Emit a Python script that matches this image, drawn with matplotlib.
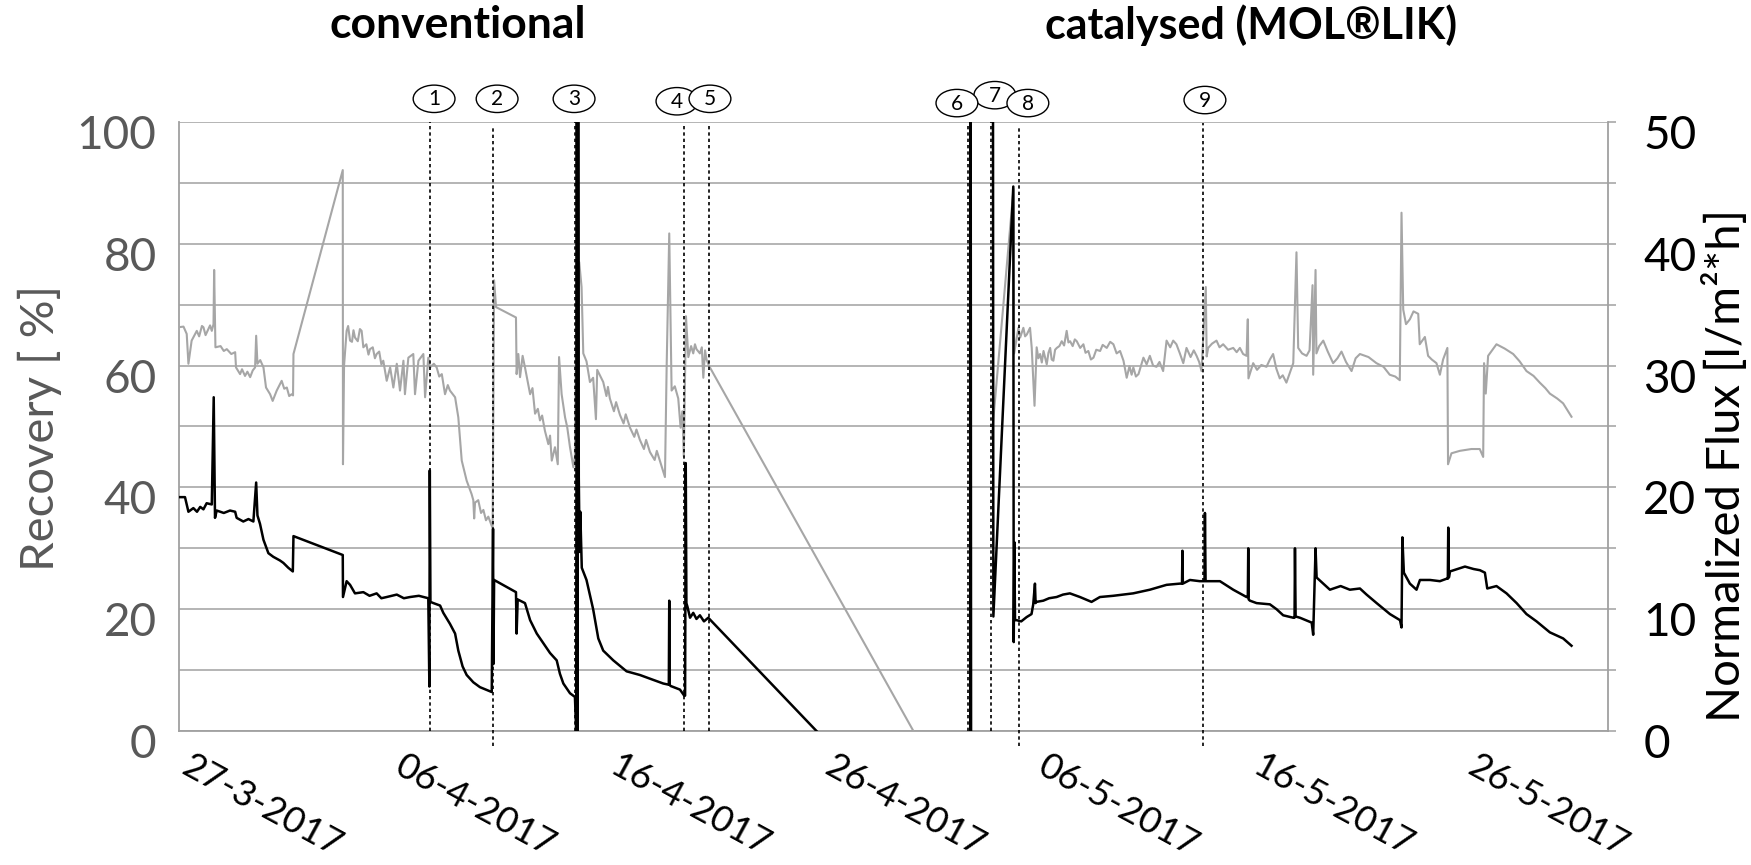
import datetime
import numpy as np
import matplotlib
matplotlib.use("Agg")
import matplotlib.pyplot as plt
import matplotlib.dates as mdates
import matplotlib.transforms as mtransforms
from matplotlib.patches import Ellipse
from matplotlib.ticker import MultipleLocator

plt.rcParams['font.family'] = ['Lato', 'DejaVu Sans']

start = datetime.datetime(2017, 3, 27)

# Recovery [%] (grey) as (days since 27-3-2017, value)
rec_conv = [(0.00, 66.3), (0.22, 66.4), (0.37, 65.2), (0.45, 60.3), (0.60, 64.1), (0.84, 65.7), (0.95, 64.8),
            (1.08, 66.5), (1.15, 66.3), (1.25, 65.0), (1.38, 66.0), (1.46, 66.6), (1.54, 65.7), (1.62, 66.8),
            (1.65, 75.7), (1.71, 63.0), (1.95, 63.2), (2.10, 62.4), (2.24, 62.7), (2.45, 61.9), (2.63, 62.2),
            (2.67, 59.7), (2.86, 58.6), (2.95, 59.4), (3.09, 58.3), (3.20, 59.0), (3.33, 58.1), (3.45, 59.2),
            (3.56, 59.7), (3.61, 64.9), (3.67, 60.3), (3.80, 60.9), (3.95, 59.7), (4.07, 56.4), (4.26, 55.3),
            (4.38, 54.2), (4.57, 55.9), (4.80, 57.5), (4.92, 56.2), (5.04, 56.4), (5.15, 55.0), (5.27, 55.3),
            (5.33, 55.1), (5.35, 61.9), (7.65, 92.1), (7.66, 43.8), (7.71, 60.0), (7.83, 65.7), (7.90, 66.5),
            (7.99, 64.1), (8.08, 63.9), (8.15, 65.8), (8.22, 64.6), (8.35, 64.0), (8.45, 66.0), (8.53, 65.7),
            (8.61, 63.0), (8.75, 63.5), (8.85, 61.8), (8.92, 62.7), (9.05, 63.0), (9.15, 61.2), (9.23, 61.9),
            (9.35, 62.3), (9.45, 60.2), (9.54, 60.8), (9.70, 57.5), (9.86, 59.7), (10.01, 56.4), (10.17, 60.3),
            (10.32, 55.9), (10.48, 60.8), (10.55, 55.3), (10.71, 61.3), (10.94, 61.9), (11.02, 55.3),
            (11.18, 60.8), (11.41, 61.9), (11.49, 54.8), (11.64, 61.3), (11.72, 59.7), (11.90, 60.3),
            (12.03, 59.7), (12.15, 58.2), (12.27, 58.6), (12.42, 55.3), (12.55, 56.8), (12.65, 55.9),
            (12.89, 54.8), (13.04, 51.5), (13.20, 44.4), (13.43, 41.1), (13.66, 38.9), (13.74, 37.9),
            (13.78, 34.9), (13.82, 37.5), (13.97, 37.9), (14.10, 35.8), (14.21, 36.3), (14.33, 34.6),
            (14.44, 35.2), (14.64, 33.3), (14.71, 74.0), (14.80, 69.6), (15.73, 67.9), (15.76, 58.6),
            (15.84, 61.9), (15.92, 58.1), (16.04, 61.6), (16.15, 59.7), (16.39, 55.3), (16.50, 56.3),
            (16.62, 52.1), (16.75, 52.9), (16.85, 51.0), (16.95, 51.8), (17.08, 49.3), (17.24, 47.1),
            (17.32, 48.5), (17.40, 44.4), (17.55, 46.6), (17.68, 43.8), (17.74, 61.4), (17.86, 55.3),
            (18.02, 51.5), (18.12, 49.9), (18.25, 46.6), (18.41, 43.3), (18.48, 45.1), (18.56, 76.7),
            (18.62, 58.0), (18.68, 77.0), (18.79, 72.9), (18.87, 62.0), (19.02, 60.7), (19.18, 57.3),
            (19.33, 58.0), (19.46, 51.2), (19.52, 59.3), (19.80, 57.3), (19.95, 55.0), (20.02, 56.5),
            (20.11, 54.6), (20.30, 52.5), (20.40, 54.0), (20.58, 51.9), (20.75, 50.5), (20.85, 52.0),
            (21.05, 49.8), (21.25, 48.3), (21.35, 49.5), (21.51, 47.8), (21.70, 46.3), (21.80, 47.8),
            (21.98, 45.8), (22.20, 44.5), (22.30, 46.0), (22.44, 44.4), (22.68, 41.7), (22.76, 60.0),
            (22.88, 81.7), (22.99, 55.9), (23.14, 56.6), (23.30, 54.6), (23.41, 49.8), (23.49, 52.5),
            (23.56, 45.1), (23.66, 68.1), (23.77, 61.4), (23.90, 63.2), (24.00, 62.0), (24.08, 63.5),
            (24.15, 62.7), (24.31, 62.0), (24.40, 63.0), (24.47, 58.0), (24.55, 62.5), (24.62, 61.0),
            (24.73, 60.0), (34.27, 0.0)]
rec_cat = [(37.92, 48.0), (38.94, 89.0), (38.97, 62.0), (39.17, 66.2), (39.25, 64.6), (39.40, 66.2), (39.48, 64.8),
           (39.56, 65.1), (39.71, 66.2), (39.79, 62.9), (39.92, 53.4), (40.02, 63.0), (40.10, 61.2), (40.18, 61.9),
           (40.26, 60.5), (40.34, 62.4), (40.49, 60.2), (40.57, 62.1), (40.65, 62.9), (40.72, 61.0), (40.80, 60.8),
           (40.88, 62.6), (40.96, 62.9), (41.08, 63.2), (41.19, 64.0), (41.30, 63.3), (41.42, 65.7), (41.50, 63.8),
           (41.58, 64.0), (41.70, 63.2), (41.80, 64.3), (41.89, 64.0), (42.05, 62.9), (42.20, 63.5), (42.30, 62.1),
           (42.43, 62.4), (42.55, 61.0), (42.67, 61.3), (42.80, 62.6), (42.98, 62.4), (43.10, 63.4), (43.29, 62.9),
           (43.45, 63.9), (43.60, 63.5), (43.75, 62.0), (43.91, 62.4), (44.07, 60.8), (44.22, 58.0), (44.35, 59.9),
           (44.45, 58.5), (44.53, 59.7), (44.65, 58.2), (44.77, 58.6), (44.90, 60.1), (45.00, 61.3), (45.15, 60.2),
           (45.30, 61.6), (45.45, 60.0), (45.61, 59.8), (45.75, 60.6), (45.92, 59.1), (46.08, 64.1), (46.25, 63.0),
           (46.39, 64.1), (46.54, 63.5), (46.70, 62.0), (46.86, 60.4), (47.01, 62.9), (47.20, 61.4), (47.35, 62.5),
           (47.48, 61.6), (47.60, 60.6), (47.71, 59.1), (47.91, 72.9), (47.95, 61.5), (48.02, 62.9), (48.20, 63.6),
           (48.41, 64.1), (48.55, 63.0), (48.72, 63.5), (48.95, 62.6), (49.19, 62.9), (49.35, 62.2), (49.50, 62.9),
           (49.65, 61.9), (49.81, 61.6), (49.87, 67.6), (49.90, 57.9), (50.12, 60.4), (50.30, 59.3), (50.50, 60.1),
           (50.74, 59.8), (50.90, 61.0), (51.05, 61.9), (51.20, 59.5), (51.36, 57.9), (51.50, 58.4), (51.67, 57.2),
           (51.85, 59.0), (51.99, 60.4), (52.14, 78.6), (52.22, 62.9), (52.40, 62.0), (52.61, 61.6), (52.75, 62.5),
           (52.89, 73.2), (52.92, 58.5), (53.03, 75.7), (53.07, 62.0), (53.20, 63.2), (53.39, 64.1), (53.60, 62.3),
           (53.85, 60.4), (54.05, 61.2), (54.24, 62.3), (54.45, 60.6), (54.71, 59.1), (54.90, 61.2), (55.10, 61.9),
           (55.50, 61.4), (55.87, 60.4), (56.20, 59.8), (56.49, 58.5), (56.75, 58.2), (56.96, 57.6), (57.04, 85.1),
           (57.12, 69.2), (57.25, 66.8), (57.43, 67.6), (57.60, 68.9), (57.82, 68.5), (57.89, 63.5), (58.13, 64.7),
           (58.28, 61.6), (58.45, 61.0), (58.67, 60.4), (58.83, 58.5), (58.98, 61.0), (59.18, 62.9), (59.21, 43.8),
           (59.37, 45.6), (59.76, 46.0), (60.30, 46.3), (60.69, 46.3), (60.85, 45.0), (60.89, 60.4), (60.97, 55.4),
           (61.08, 61.6), (61.47, 63.5), (61.85, 62.8), (62.25, 61.9), (62.55, 60.7), (62.87, 59.1), (63.20, 58.3),
           (63.49, 57.2), (63.75, 56.3), (63.96, 55.4), (64.30, 54.6), (64.58, 53.8), (64.97, 51.6)]

# Normalized flux [l/m2*h] (black) as (days since 27-3-2017, value)
flux_conv = [(0.00, 19.2), (0.29, 19.2), (0.45, 18.0), (0.68, 18.3), (0.85, 18.0), (1.00, 18.4), (1.15, 18.2),
             (1.30, 18.7), (1.54, 18.6), (1.63, 27.4), (1.69, 17.5), (1.77, 18.1), (2.10, 17.9), (2.39, 18.1),
             (2.63, 18.0), (2.70, 17.5), (3.01, 17.2), (3.25, 17.4), (3.48, 17.2), (3.61, 20.4), (3.67, 17.7),
             (3.79, 17.0), (3.95, 15.7), (4.18, 14.6), (4.41, 14.3), (4.72, 14.0), (4.88, 13.8), (5.11, 13.4),
             (5.32, 13.1), (5.35, 16.0), (7.65, 14.45), (7.66, 11.0), (7.83, 12.3), (7.99, 12.0), (8.22, 11.3),
             (8.61, 11.4), (8.90, 11.1), (9.23, 11.3), (9.45, 10.9), (9.70, 11.0), (10.17, 11.2), (10.50, 10.9),
             (10.79, 11.0), (11.20, 11.1), (11.64, 10.9), (11.69, 3.65), (11.71, 21.4), (11.74, 10.6),
             (11.88, 10.5), (12.19, 10.3), (12.34, 9.7), (12.65, 8.8), (12.89, 8.0), (13.04, 6.6), (13.24, 5.3),
             (13.43, 4.6), (13.74, 4.0), (14.05, 3.6), (14.60, 3.2), (14.66, 16.6), (14.68, 5.5), (14.71, 12.4),
             (15.73, 11.4), (15.76, 8.0), (15.81, 10.8), (16.15, 10.5), (16.39, 9.1), (16.70, 8.0),
             (17.01, 7.2), (17.32, 6.4), (17.63, 5.8), (17.78, 4.7), (17.94, 3.9), (18.25, 3.1), (18.48, 2.8),
             (18.54, 0.0), (18.57, 60.0), (18.60, 0.0), (18.63, 60.0), (18.66, 20.8), (18.70, 14.7),
             (18.73, 18.0), (18.80, 13.4), (19.02, 12.4), (19.33, 10.0), (19.57, 7.6), (19.80, 6.6),
             (20.27, 5.8), (20.89, 4.9), (21.51, 4.6), (22.13, 4.2), (22.60, 3.9), (22.86, 3.8), (22.88, 10.7),
             (22.90, 3.8), (22.94, 3.7), (23.38, 3.4), (23.58, 2.9), (23.62, 2.9), (23.65, 22.0), (23.68, 10.5),
             (23.73, 10.2), (23.85, 9.3), (24.00, 9.7), (24.15, 9.2), (24.31, 9.5), (24.50, 9.0), (24.70, 9.3),
             (29.75, 0.0)]
flux_spike6 = [(36.93, 0.0), (36.94, 60.0), (36.96, 0.0)]
flux_cat = [(37.98, 60.0), (38.00, 9.4), (38.93, 44.7), (38.95, 7.3), (38.98, 15.5), (39.01, 9.1), (39.08, 9.1),
            (39.30, 9.0), (39.55, 9.35), (39.78, 9.6), (39.86, 10.4), (39.94, 12.1), (39.97, 10.5), (40.01, 10.6),
            (40.33, 10.7), (40.60, 10.9), (40.95, 11.0), (41.25, 11.2), (41.57, 11.3), (42.04, 11.0),
            (42.58, 10.6), (42.97, 11.0), (43.59, 11.1), (44.52, 11.3), (45.30, 11.6), (46.08, 12.0),
            (46.70, 12.1), (46.80, 12.1), (46.82, 14.8), (46.84, 12.1), (47.17, 12.4), (47.63, 12.3),
            (47.85, 12.3), (47.87, 17.9), (47.90, 12.3), (48.57, 12.3), (49.19, 11.6), (49.81, 11.0),
            (49.87, 11.0), (49.89, 15.0), (49.91, 10.8), (49.97, 10.7), (50.28, 10.5), (50.90, 10.4),
            (51.21, 10.0), (51.52, 9.5), (51.99, 9.3), (52.05, 9.3), (52.07, 15.0), (52.10, 9.4), (52.30, 9.3),
            (52.85, 8.9), (52.92, 7.9), (53.03, 15.0), (53.08, 12.6), (53.70, 11.6), (54.20, 11.9),
            (54.63, 11.6), (55.10, 11.7), (55.41, 11.2), (55.88, 10.5), (56.50, 9.6), (56.97, 9.1),
            (57.04, 8.5), (57.08, 15.9), (57.15, 13.0), (57.43, 12.1), (57.74, 11.6), (57.90, 12.4),
            (58.37, 12.4), (58.83, 12.3), (59.14, 12.5), (59.20, 12.5), (59.22, 16.7), (59.25, 12.6),
            (59.30, 13.1), (60.00, 13.5), (60.40, 13.3), (60.70, 13.2), (60.93, 13.0), (61.04, 11.7),
            (61.47, 11.9), (61.94, 11.3), (62.41, 10.5), (62.87, 9.6), (63.34, 9.0), (63.96, 8.1),
            (64.58, 7.6), (64.97, 7.0)]

# events (days since start) and their circled labels
event_t = [11.70, 14.64, 18.49, 23.55, 24.72, 36.80, 37.87, 39.20, 47.80]
event_top = [100, 99.2, 100, 99.3, 99.5, 99.5, 100, 99.3, 99.8]
event_bottom = [0, -2.5, 0, 0, 0, 0, 0, -2.5, -2.5]
label_t = [11.91, 14.85, 18.44, 23.24, 24.78, 36.30, 38.07, 39.61, 47.87]
label_y = [103.8, 103.8, 103.8, 103.4, 103.8, 103.1, 104.4, 103.1, 103.6]
label_txt = ['1', '2', '3', '4', '5', '6', '7', '8', '9']

tick_days = [0, 10, 20, 30, 40, 50, 60]
tick_labels = ['27-3-2017', '06-4-2017', '16-4-2017', '26-4-2017', '06-5-2017', '16-5-2017', '26-5-2017']

t0 = mdates.date2num(start)
grey = '#a6a6a6'
axis_grey = '#a0a0a0'


def xy(points):
    t, v = zip(*points)
    return t0 + np.array(t), np.array(v)


fig = plt.figure(figsize=(17.51, 8.65), dpi=100)
ax = fig.add_axes([0.1021, 0.1549, 0.8162, 0.7041])
ax2 = ax.twinx()

for seg in (rec_conv, rec_cat):
    ax.plot(*xy(seg), color=grey, lw=1.5, zorder=3)
for seg in (flux_conv, flux_spike6, flux_cat):
    ax2.plot(*xy(seg), color='black', lw=1.8, zorder=3)

for x, top, bot in zip(event_t, event_top, event_bottom):
    ax.plot([t0 + x, t0 + x], [bot, top], color='black', lw=1.2, ls=(0, (2.0, 1.8)), clip_on=False, zorder=4)

order = [0, 1, 2, 3, 4, 6, 5, 7, 8]
for i in order:
    e = Ellipse((t0 + label_t[i], label_y[i]), 1.95, 4.5, facecolor='white', edgecolor='black',
                lw=1.0, clip_on=False, zorder=5)
    ax.add_patch(e)
    ax.text(t0 + label_t[i], label_y[i] - 0.1, label_txt[i], ha='center', va='center', fontsize=15,
            clip_on=False, zorder=6)

ax.set_xlim(t0, t0 + 66.67)
ax.set_ylim(0, 100)
ax2.set_ylim(0, 50)

ax.set_xticks(t0 + np.array(tick_days))
ax.set_xticklabels(tick_labels, rotation=-28.5, ha='left', va='top', rotation_mode='anchor')
ax.tick_params(axis='x', length=0, pad=13, labelsize=26.5, labelcolor='black')
shift = mtransforms.ScaledTranslation(0.13, 0, fig.dpi_scale_trans)
for lab in ax.get_xticklabels():
    lab.set_transform(lab.get_transform() + shift)

ax.set_yticks(range(0, 101, 20))
ax.yaxis.set_minor_locator(MultipleLocator(10))
ax.tick_params(axis='y', which='both', length=0, pad=16, labelsize=33, labelcolor='#595959')
ax.grid(axis='y', which='both', color='#b4b4b4', lw=1.4)
ax.set_axisbelow(True)

ax2.set_yticks(range(0, 51, 10))
ax2.yaxis.set_minor_locator(MultipleLocator(5))
ax2.tick_params(axis='y', which='both', direction='out', length=5.5, width=1.1, color=axis_grey,
                pad=20, labelsize=33, labelcolor='black')

down = mtransforms.ScaledTranslation(0, -0.10, fig.dpi_scale_trans)
for lab in ax.get_yticklabels() + ax2.get_yticklabels():
    lab.set_transform(lab.get_transform() + down)

for a in (ax, ax2):
    a.spines['top'].set_visible(False)
    for s in ('left', 'bottom', 'right'):
        a.spines[s].set_color(axis_grey)
        a.spines[s].set_linewidth(1.3)
ax.spines['right'].set_visible(False)
ax2.spines['left'].set_visible(False)
ax2.spines['bottom'].set_visible(False)

fig.text(40 / 1751, 1 - 428 / 865, 'Recovery [ %]', rotation=90, ha='center', va='center',
         fontsize=34, color='#595959')
fig.text(1725 / 1751, 1 - 466 / 865, 'Normalized Flux [l/m²*h]', rotation=90, ha='center', va='center',
         fontsize=34, color='black')

fig.text(458 / 1751, 1 - 25 / 865, 'conventional', ha='center', va='center', fontsize=32, fontweight='bold')
fig.text(1251 / 1751, 1 - 25 / 865, 'catalysed (MOL®LIK)', ha='center', va='center', fontsize=31,
         fontweight='bold')

fig.savefig('out.png', dpi=100)
